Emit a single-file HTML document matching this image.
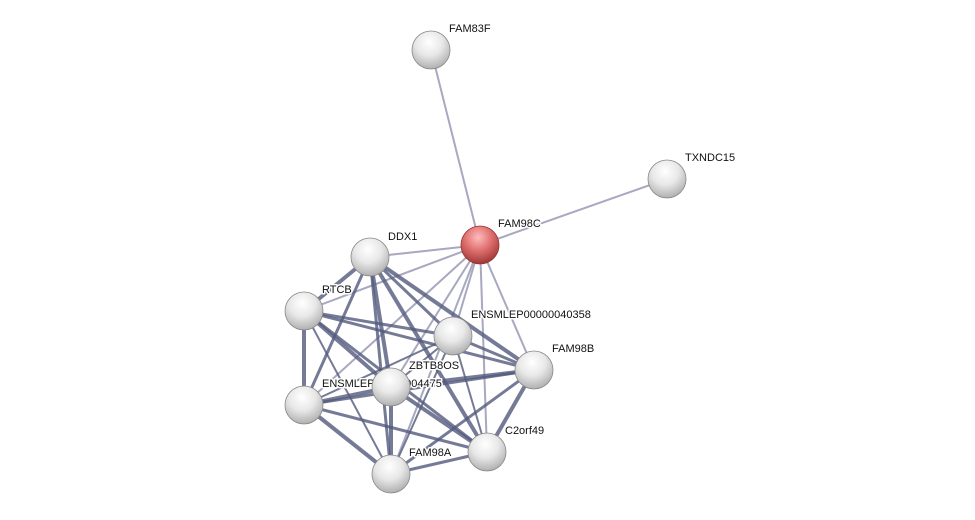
<!DOCTYPE html>
<html><head><style>
html,body{margin:0;padding:0;background:#fff;width:975px;height:520px;overflow:hidden}
text{font-family:"Liberation Sans",sans-serif;font-size:11px;fill:#111;paint-order:stroke;stroke:#fff;stroke-width:3px;stroke-linejoin:round}
</style></head><body>
<svg width="975" height="520" viewBox="0 0 975 520">
<defs>
<radialGradient id="g" cx="45%" cy="30%" r="70%">
<stop offset="0" stop-color="#ffffff"/><stop offset="0.5" stop-color="#e8e8e8"/><stop offset="1" stop-color="#b0b0b0"/></radialGradient>
<radialGradient id="r" cx="45%" cy="30%" r="70%">
<stop offset="0" stop-color="#ffbcbc"/><stop offset="0.5" stop-color="#e07070"/><stop offset="1" stop-color="#a03838"/></radialGradient>
</defs>
<g stroke="#a8a8c0" stroke-width="2">
<line x1="480" y1="245" x2="431" y2="50"/>
<line x1="480" y1="245" x2="667" y2="179"/>
<line x1="480" y1="245" x2="370" y2="257"/>
<line x1="480" y1="245" x2="304" y2="311"/>
<line x1="480" y1="245" x2="453" y2="336"/>
<line x1="480" y1="245" x2="534" y2="370"/>
<line x1="480" y1="245" x2="391" y2="387"/>
<line x1="480" y1="245" x2="304" y2="405"/>
<line x1="480" y1="245" x2="487" y2="452"/>
<line x1="480" y1="245" x2="391" y2="474"/>
</g>
<g stroke="#525a7c" stroke-opacity="0.8">
<line x1="370" y1="257" x2="304" y2="311" stroke-width="4"/>
<line x1="370" y1="257" x2="453" y2="336" stroke-width="3"/>
<line x1="370" y1="257" x2="534" y2="370" stroke-width="4"/>
<line x1="370" y1="257" x2="391" y2="387" stroke-width="4"/>
<line x1="370" y1="257" x2="304" y2="405" stroke-width="3"/>
<line x1="370" y1="257" x2="487" y2="452" stroke-width="4"/>
<line x1="370" y1="257" x2="391" y2="474" stroke-width="3"/>
<line x1="304" y1="311" x2="453" y2="336" stroke-width="3"/>
<line x1="304" y1="311" x2="534" y2="370" stroke-width="3"/>
<line x1="304" y1="311" x2="391" y2="387" stroke-width="4"/>
<line x1="304" y1="311" x2="304" y2="405" stroke-width="4"/>
<line x1="304" y1="311" x2="487" y2="452" stroke-width="3"/>
<line x1="304" y1="311" x2="391" y2="474" stroke-width="2"/>
<line x1="453" y1="336" x2="534" y2="370" stroke-width="3"/>
<line x1="453" y1="336" x2="391" y2="387" stroke-width="2"/>
<line x1="453" y1="336" x2="304" y2="405" stroke-width="2"/>
<line x1="453" y1="336" x2="487" y2="452" stroke-width="2"/>
<line x1="453" y1="336" x2="391" y2="474" stroke-width="2"/>
<line x1="534" y1="370" x2="391" y2="387" stroke-width="4"/>
<line x1="534" y1="370" x2="304" y2="405" stroke-width="3"/>
<line x1="534" y1="370" x2="487" y2="452" stroke-width="4"/>
<line x1="534" y1="370" x2="391" y2="474" stroke-width="3"/>
<line x1="391" y1="387" x2="304" y2="405" stroke-width="4"/>
<line x1="391" y1="387" x2="487" y2="452" stroke-width="4"/>
<line x1="391" y1="387" x2="391" y2="474" stroke-width="4"/>
<line x1="304" y1="405" x2="487" y2="452" stroke-width="3"/>
<line x1="304" y1="405" x2="391" y2="474" stroke-width="4"/>
<line x1="487" y1="452" x2="391" y2="474" stroke-width="3"/>
</g>
<text x="322" y="387">ENSMLEP00000004475</text>
<g stroke="#888" stroke-width="0.8">
<circle cx="431" cy="50" r="19" fill="url(#g)"/>
<circle cx="667" cy="179" r="19" fill="url(#g)"/>
<circle cx="480" cy="245" r="19" fill="url(#r)" stroke="#933"/>
<circle cx="370" cy="257" r="19" fill="url(#g)"/>
<circle cx="304" cy="311" r="19" fill="url(#g)"/>
<circle cx="453" cy="336" r="19" fill="url(#g)"/>
<circle cx="534" cy="370" r="19" fill="url(#g)"/>
<circle cx="304" cy="405" r="19" fill="url(#g)"/>
<circle cx="391" cy="387" r="19" fill="url(#g)"/>
<circle cx="487" cy="452" r="19" fill="url(#g)"/>
<circle cx="391" cy="474" r="19" fill="url(#g)"/>
</g>
<text x="449" y="32">FAM83F</text>
<text x="685" y="161">TXNDC15</text>
<text x="498" y="227">FAM98C</text>
<text x="388" y="240">DDX1</text>
<text x="322" y="293">RTCB</text>
<text x="471" y="318">ENSMLEP00000040358</text>
<text x="552" y="352">FAM98B</text>
<text x="409" y="369">ZBTB8OS</text>
<text x="505" y="434">C2orf49</text>
<text x="409" y="456">FAM98A</text>
</svg>
</body></html>
